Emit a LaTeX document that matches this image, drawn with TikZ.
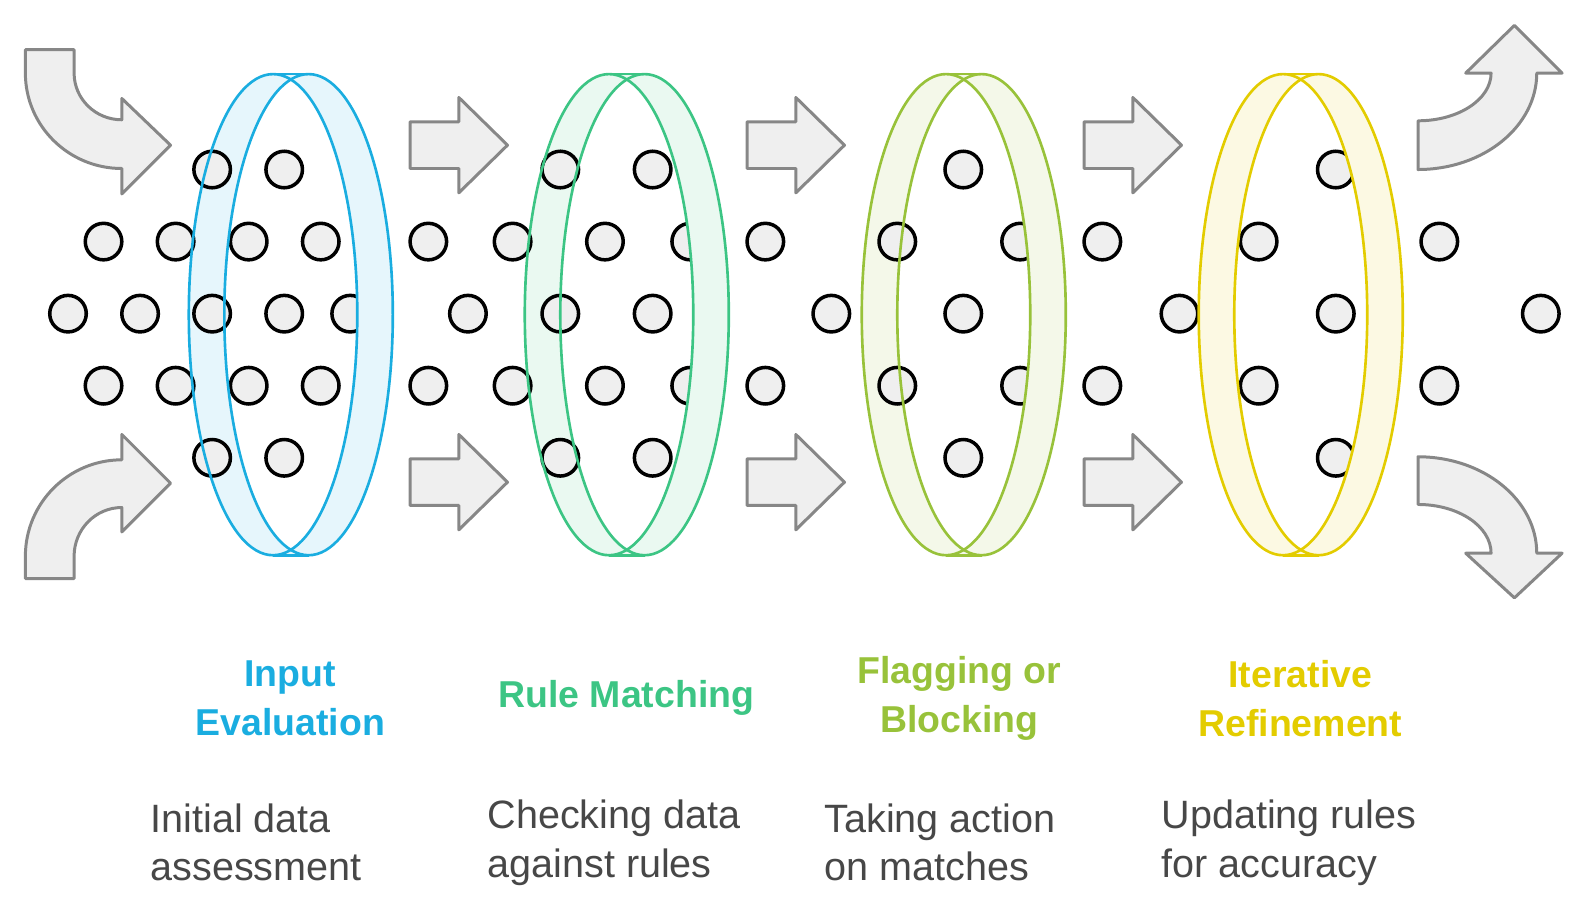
\documentclass[tikz,border=0pt]{standalone}
\usepackage{fontspec}
\setmainfont{Liberation Sans}
\definecolor{cblue}{HTML}{1AADE0}
\definecolor{cgreen}{HTML}{3CC584}
\definecolor{clime}{HTML}{98C23A}
\definecolor{cyellow}{HTML}{E3CC00}
\definecolor{arrowgray}{HTML}{878787}
\definecolor{arrowfill}{HTML}{EFEFEF}
\definecolor{textgray}{HTML}{474747}
\tikzset{
  arrowbox/.style={draw=arrowgray, fill=arrowfill, line width=1.7pt, line join=round},
  dot/.style={draw=black, fill=arrowfill, line width=2pt},
  ringline/.style={line width=1.5pt},
  title/.style={font=\bfseries\fontsize{21.3}{27.7}\selectfont, align=center},
  desc/.style={text=textgray, font=\fontsize{22.5}{27.7}\selectfont, align=left, anchor=west, inner sep=0pt}
}
\def\hull#1{(#1-17.5,73) arc[start angle=270,end angle=90,x radius=83,y radius=237] -- (#1+17.5,547) arc[start angle=90,end angle=-90,x radius=83,y radius=237] -- cycle}
\begin{document}
\begin{tikzpicture}[x=0.0203cm, y=-0.0203cm]
\useasboundingbox (0,0) rectangle (1564.5,900.5);

\def\rx{83}
\def\ry{237}

%left part of the rings
\foreach \cx/\col in {286.5/cblue, 617.5/cgreen, 949.5/clime, 1281.5/cyellow}{
    \begin{scope}
        \clip (\cx-120,0) rectangle (\cx,600);
        \fill[\col!11, even odd rule] \hull{\cx} (\cx+17.5,310) ellipse[x radius=\rx, y radius=\ry];
    \end{scope}
}

%dots
\foreach \p in {(209,167),(280,167),(102,238),(173,238),(245,238),(316,238),
                (67,309),(138,309),(209,309),(280,309),(345,309),
                (102,380),(173,380),(245,380),(316,380),(209,451),(280,451),
                (552,167),(643,167),(422,238),(505,238),(596,238),(680,238),
                (461,309),(552,309),(643,309),(422,380),(505,380),(596,380),(680,380),
                (552,451),(643,451),(754,238),(754,380),
                (949,167),(884,238),(1005,238),(1086,238),(819,309),(949,309),
                (884,380),(1005,380),(1086,380),(949,451),
                (1316,167),(1240,238),(1418,238),(1162,309),(1316,309),(1518,309),
                (1240,380),(1418,380),(1316,451)}{
    \draw[dot] \p circle (18);
}

%right part of the rings
\foreach \cx/\col in {286.5/cblue, 617.5/cgreen, 949.5/clime, 1281.5/cyellow}{
    \begin{scope}
        \clip (\cx,0) rectangle (\cx+120,600);
        \fill[\col!11, even odd rule] \hull{\cx} (\cx-17.5,310) ellipse[x radius=\rx, y radius=\ry];
    \end{scope}
    \draw[ringline, \col] (\cx-17.5,310) ellipse[x radius=\rx, y radius=\ry];
    \draw[ringline, \col] (\cx+17.5,310) ellipse[x radius=\rx, y radius=\ry];
    \draw[ringline, \col] (\cx-17.5,73) -- (\cx+17.5,73) (\cx-17.5,547) -- (\cx+17.5,547);
}

%straight arrows
\foreach \x in {404, 736, 1068}{
    \foreach \y in {143, 475}{
        \draw[arrowbox] (\x,\y-23) -- (\x+48,\y-23) -- (\x+48,\y-47) -- (\x+96,\y)
            -- (\x+48,\y+47) -- (\x+48,\y+23) -- (\x,\y+23) -- cycle;
    }
}

%curved arrows
\draw[arrowbox] (25,49) -- (25,72) arc[start angle=180,end angle=90,x radius=95,y radius=94]
    -- (120,191) -- (168,143) -- (120,97) -- (120,118)
    arc[start angle=90,end angle=180,x radius=47,y radius=46] -- (73,49) -- cycle;
\draw[arrowbox] (25,570) -- (25,548) arc[start angle=180,end angle=270,x radius=95,y radius=95]
    -- (120,428) -- (168,476) -- (120,524) -- (120,500)
    arc[start angle=270,end angle=180,x radius=47,y radius=48] -- (73,570) -- cycle;
\draw[arrowbox] (1397,167) arc[start angle=90,end angle=0,x radius=117,y radius=95]
    -- (1539,72) -- (1492,25) -- (1444,72) -- (1469,72)
    arc[start angle=0,end angle=90,x radius=72,y radius=47] -- cycle;
\draw[arrowbox] (1397,450) arc[start angle=270,end angle=360,x radius=117,y radius=95]
    -- (1539,545) -- (1492,589) -- (1444,545) -- (1469,545)
    arc[start angle=360,end angle=270,x radius=72,y radius=48] -- cycle;

%labels
\node[title, text=cblue] (input) at (286,688) {Input\\Evaluation};
\node[title, text=cgreen] (rule) at (617,688) {Rule Matching};
\node[title, text=clime] (flag) at (945,688) {Flagging or\\Blocking};
\node[title, text=cyellow] (iter) at (1281,688) {Iterative\\Refinement};

\node[desc] (inputtxt) at (148,830) {Initial data\\assessment};
\node[desc] (ruletxt) at (480,830) {Checking data\\against rules};
\node[desc] (flagtxt) at (812,830) {Taking action\\on matches};
\node[desc] (itertxt) at (1144,830) {Updating rules\\for accuracy};

\end{tikzpicture}
\end{document}
